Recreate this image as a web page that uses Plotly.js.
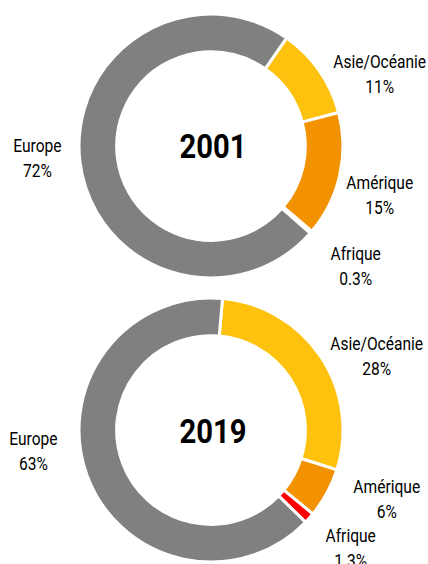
<!DOCTYPE html>
<html><head><meta charset="utf-8">
<script src="https://cdn.plot.ly/plotly-3.0.1.min.js"></script>
<style>html,body{margin:0;padding:0;background:#fff}#c{width:428px;height:564px}</style>
</head><body><div id="c"></div>
<script>
const regions = ["Asie/Océanie", "Amérique", "Afrique", "Europe"];
const years = ["2001", "2019"];
const values2001 = [11, 15, 0.3, 72];
const values2019 = [28, 6, 1.3, 63];
const pct2001 = ["11%", "15%", "0.3%", "72%"];
const pct2019 = ["28%", "6%", "1.3%", "63%"];
const colors = ["#FDC10E", "#F39200", "#FF0000", "#808080"];

const FONT = "Roboto, 'DejaVu Sans', sans-serif";

function pie(values, rotation, domain) {
  return {
    type: "pie", values: values, labels: regions, sort: false,
    direction: "clockwise", rotation: rotation, hole: 0.715,
    marker: {colors: colors, line: {color: "#ffffff", width: 3}},
    textinfo: "none", hoverinfo: "label+percent", showlegend: false,
    domain: domain
  };
}

const data = [
  pie(values2001, 35, {x: [0.1846, 0.8014], y: [0.507, 0.975]}),
  pie(values2019, 5, {x: [0.1846, 0.8014], y: [0.0035, 0.4716]})
];

// label positions (pixels from top-left) per region: top chart, bottom chart
const pos2001 = [[379, 74], [380, 195], [355, 266], [37, 158]];
const pos2019 = [[376, 356], [387, 499], [350, 548], [33, 451]];

const ann = [];
function addLabels(pos, pct) {
  for (let i = 0; i < regions.length; i++) {
    ann.push({
      x: pos[i][0] / 428, y: 1 - pos[i][1] / 564, xref: "paper", yref: "paper",
      text: regions[i] + "<br>" + pct[i], showarrow: false,
      xanchor: "center", yanchor: "middle", align: "center",
      font: {family: FONT, size: 19, color: "#000"}
    });
  }
}
addLabels(pos2001, pct2001);
addLabels(pos2019, pct2019);
ann.push({x: 213/428, y: 1 - 146/564, xref: "paper", yref: "paper", text: "<b>" + years[0] + "</b>",
  showarrow: false, xanchor: "center", yanchor: "middle", font: {family: FONT, size: 34, color: "#000"}});
ann.push({x: 213/428, y: 1 - 431/564, xref: "paper", yref: "paper", text: "<b>" + years[1] + "</b>",
  showarrow: false, xanchor: "center", yanchor: "middle", font: {family: FONT, size: 34, color: "#000"}});

const layout = {
  width: 428, height: 564, margin: {l: 0, r: 0, t: 0, b: 0},
  paper_bgcolor: "#fff", plot_bgcolor: "#fff",
  annotations: ann, showlegend: false
};
Plotly.newPlot("c", data, layout, {staticPlot: true}).then(function () {
  // condense the text horizontally to resemble the narrow typeface of the reference
  document.querySelectorAll("#c .annotation-text").forEach(function (t) {
    const isYear = /^\d{4}$/.test(t.textContent.trim());
    t.style.transformBox = "fill-box";
    t.style.transformOrigin = "center";
    t.style.transform = isYear ? "scaleX(0.86)" : "scaleX(0.82)";
  });
});
</script></body></html>
